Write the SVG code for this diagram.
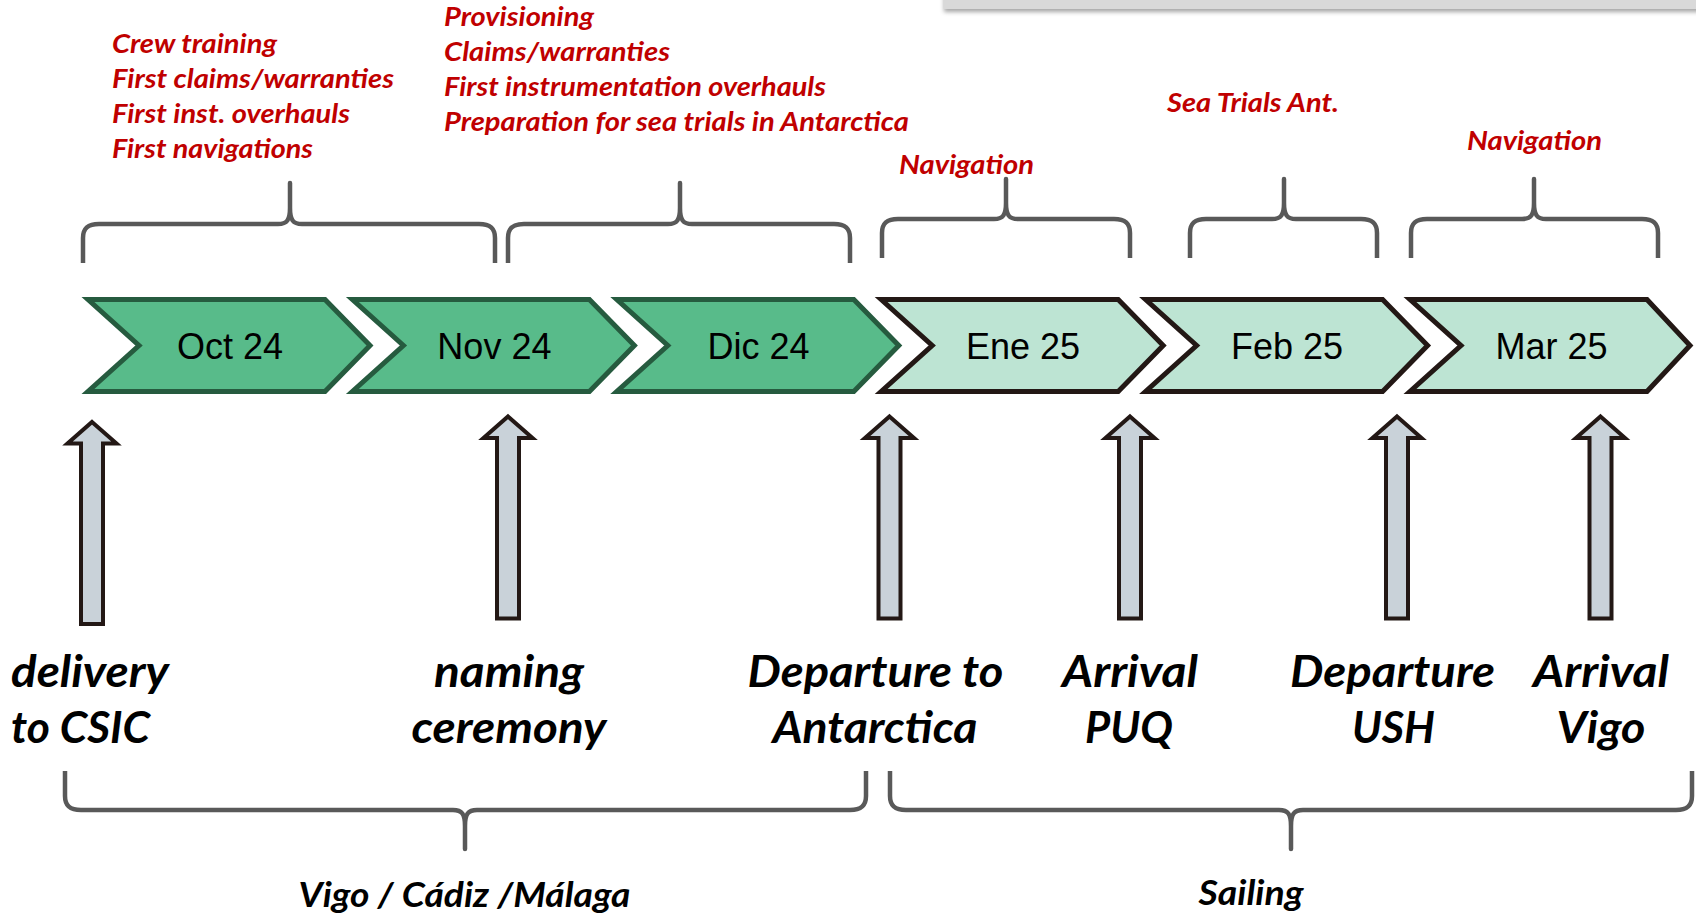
<svg xmlns="http://www.w3.org/2000/svg" width="1696" height="917" viewBox="0 0 1696 917">
<style>
.dk{fill:#58BB8A;stroke:#265B3F;stroke-width:5;stroke-linejoin:miter}
.lt{fill:#BDE4D3;stroke:#231815;stroke-width:5;stroke-linejoin:miter}
.mo{font-family:"Liberation Sans",Arial,sans-serif;font-size:36px;fill:#000;text-anchor:middle}
.ar{fill:#C9D2D9;stroke:#231815;stroke-width:4;stroke-linejoin:miter}
.br{fill:none;stroke:#595959;stroke-width:4.5;stroke-linecap:butt;stroke-linejoin:round}
.red{font-family:Lato,"Open Sans",sans-serif;font-weight:bold;font-style:italic;font-size:27px;fill:#C00000}
.blk{font-family:Lato,"Open Sans",sans-serif;font-weight:bold;font-style:italic;font-size:43px;fill:#000}
.bot{font-family:Lato,"Open Sans",sans-serif;font-weight:bold;font-style:italic;font-size:34px;fill:#000}
.mid{text-anchor:middle}
</style>
<defs>
<filter id="sh" x="-5%" y="-100%" width="110%" height="400%">
<feDropShadow dx="0" dy="3" stdDeviation="2" flood-color="#000" flood-opacity="0.35"/>
</filter>
</defs>
<rect width="1696" height="917" fill="#fff"/>
<rect id="topbar" x="944" y="-12" width="770" height="21" fill="#D9D9D9" filter="url(#sh)"/>

<g id="chevrons">
<g id="oct"><path class="dk" d="M88,299.5 L325,299.5 L370,345.5 L325,391.5 L88,391.5 L139,345.5 Z"/><text class="mo" x="230" y="359">Oct 24</text></g>
<g id="nov"><path class="dk" d="M352.4,299.5 L589.4,299.5 L634.4,345.5 L589.4,391.5 L352.4,391.5 L403.4,345.5 Z"/><text class="mo" x="494.4" y="359">Nov 24</text></g>
<g id="dic"><path class="dk" d="M616.8,299.5 L853.8,299.5 L898.8,345.5 L853.8,391.5 L616.8,391.5 L667.8,345.5 Z"/><text class="mo" x="758.5" y="359">Dic 24</text></g>
<g id="ene"><path class="lt" d="M881.2,299.5 L1118.2,299.5 L1163.2,345.5 L1118.2,391.5 L881.2,391.5 L932.2,345.5 Z"/><text class="mo" x="1023" y="359">Ene 25</text></g>
<g id="feb"><path class="lt" d="M1145.6,299.5 L1382.6,299.5 L1427.6,345.5 L1382.6,391.5 L1145.6,391.5 L1196.6,345.5 Z"/><text class="mo" x="1287" y="359">Feb 25</text></g>
<g id="mar"><path class="lt" d="M1410,299.5 L1647,299.5 L1690,345.5 L1647,391.5 L1410,391.5 L1461,345.5 Z"/><text class="mo" x="1551.5" y="359">Mar 25</text></g>
</g>

<g id="activities">
<g id="act-oct-nov">
<path class="br" d="M83,263 L83,238 C83,228 88,224 99,224 L278,224 C287,224 290,220 290,208 L290,183 L290,208 C290,220 293,224 302,224 L479,224 C490,224 495,228 495,238 L495,263"/>
<text class="red" x="112" y="53" textLength="165" lengthAdjust="spacingAndGlyphs">Crew training</text>
<text class="red" x="112" y="88" textLength="282" lengthAdjust="spacingAndGlyphs">First claims/warranties</text>
<text class="red" x="112" y="123" textLength="238" lengthAdjust="spacingAndGlyphs">First inst. overhauls</text>
<text class="red" x="112" y="158" textLength="201" lengthAdjust="spacingAndGlyphs">First navigations</text>
</g>
<g id="act-nov-dic">
<path class="br" d="M508,263 L508,238 C508,228 513,224 524,224 L668,224 C677,224 680,220 680,208 L680,183 L680,208 C680,220 683,224 692,224 L834,224 C845,224 850,228 850,238 L850,263"/>
<text class="red" x="444" y="26" textLength="150" lengthAdjust="spacingAndGlyphs">Provisioning</text>
<text class="red" x="444" y="61" textLength="226" lengthAdjust="spacingAndGlyphs">Claims/warranties</text>
<text class="red" x="444" y="96" textLength="382" lengthAdjust="spacingAndGlyphs">First instrumentation overhauls</text>
<text class="red" x="444" y="131" textLength="465" lengthAdjust="spacingAndGlyphs">Preparation for sea trials in Antarctica</text>
</g>
<g id="act-ene">
<path class="br" d="M882,258 L882,233 C882,223 887,219 898,219 L994,219 C1003,219 1006,215 1006,203 L1006,179 L1006,203 C1006,215 1009,219 1018,219 L1114,219 C1125,219 1130,223 1130,233 L1130,258"/>
<text class="red" x="899" y="174" textLength="135" lengthAdjust="spacingAndGlyphs">Navigation</text>
</g>
<g id="act-feb">
<path class="br" d="M1190,258 L1190,233 C1190,223 1195,219 1206,219 L1272,219 C1281,219 1284,215 1284,203 L1284,179 L1284,203 C1284,215 1287,219 1296,219 L1361,219 C1372,219 1377,223 1377,233 L1377,258"/>
<text class="red" x="1167" y="112" textLength="172" lengthAdjust="spacingAndGlyphs">Sea Trials Ant.</text>
</g>
<g id="act-mar">
<path class="br" d="M1411,258 L1411,233 C1411,223 1416,219 1427,219 L1522,219 C1531,219 1534,215 1534,203 L1534,179 L1534,203 C1534,215 1537,219 1546,219 L1642,219 C1653,219 1658,223 1658,233 L1658,258"/>
<text class="red" x="1467" y="150" textLength="135" lengthAdjust="spacingAndGlyphs">Navigation</text>
</g>
</g>

<g id="connectors">
<path class="ar" d="M92,422 L116.5,443.5 L103,443.5 L103,624 L81,624 L81,443.5 L67.5,443.5 Z"/>
<path class="ar" d="M508,416.5 L532.5,438 L519,438 L519,618.5 L497,618.5 L497,438 L483.5,438 Z"/>
<path class="ar" d="M889.5,416.5 L914,438 L900.5,438 L900.5,618.5 L878.5,618.5 L878.5,438 L865,438 Z"/>
<path class="ar" d="M1130,416.5 L1154.5,438 L1141,438 L1141,618.5 L1119,618.5 L1119,438 L1105.5,438 Z"/>
<path class="ar" d="M1397,416.5 L1421.5,438 L1408,438 L1408,618.5 L1386,618.5 L1386,438 L1372.5,438 Z"/>
<path class="ar" d="M1600.5,416.5 L1625,438 L1611.5,438 L1611.5,618.5 L1589.5,618.5 L1589.5,438 L1576,438 Z"/>
</g>

<g id="milestones">
<g id="ms-delivery">
<text class="blk" x="11" y="687" textLength="158" lengthAdjust="spacingAndGlyphs">delivery</text>
<text class="blk" x="11" y="743" textLength="139" lengthAdjust="spacingAndGlyphs">to CSIC</text>
</g>
<g id="ms-naming">
<text class="blk mid" x="509" y="687" textLength="150" lengthAdjust="spacingAndGlyphs">naming</text>
<text class="blk mid" x="509" y="743" textLength="195" lengthAdjust="spacingAndGlyphs">ceremony</text>
</g>
<g id="ms-departure-ant">
<text class="blk mid" x="875.5" y="687" textLength="256" lengthAdjust="spacingAndGlyphs">Departure to</text>
<text class="blk mid" x="875" y="743" textLength="205" lengthAdjust="spacingAndGlyphs">Antarctica</text>
</g>
<g id="ms-arrival-puq">
<text class="blk mid" x="1130" y="687" textLength="136" lengthAdjust="spacingAndGlyphs">Arrival</text>
<text class="blk mid" x="1129" y="743" textLength="88" lengthAdjust="spacingAndGlyphs">PUQ</text>
</g>
<g id="ms-departure-ush">
<text class="blk mid" x="1392.5" y="687" textLength="205" lengthAdjust="spacingAndGlyphs">Departure</text>
<text class="blk mid" x="1393.5" y="743" textLength="83" lengthAdjust="spacingAndGlyphs">USH</text>
</g>
<g id="ms-arrival-vigo">
<text class="blk mid" x="1601" y="687" textLength="136" lengthAdjust="spacingAndGlyphs">Arrival</text>
<text class="blk mid" x="1601" y="743" textLength="89" lengthAdjust="spacingAndGlyphs">Vigo</text>
</g>
</g>

<g id="phases">
<g id="phase-spain">
<path class="br" d="M65,771 L65,796 C65,806 70,810 81,810 L453,810 C462,810 465,814 465,826 L465,849 L465,826 C465,814 468,810 477,810 L850,810 C861,810 866,806 866,796 L866,771"/>
<text class="bot mid" x="464.5" y="907" textLength="332" lengthAdjust="spacingAndGlyphs">Vigo / Cádiz /Málaga</text>
</g>
<g id="phase-sailing">
<path class="br" d="M890,771 L890,796 C890,806 895,810 906,810 L1279,810 C1288,810 1291,814 1291,826 L1291,849 L1291,826 C1291,814 1294,810 1303,810 L1676,810 C1687,810 1692,806 1692,796 L1692,771"/>
<text class="bot mid" x="1251" y="905" textLength="105" lengthAdjust="spacingAndGlyphs">Sailing</text>
</g>
</g>
</svg>
